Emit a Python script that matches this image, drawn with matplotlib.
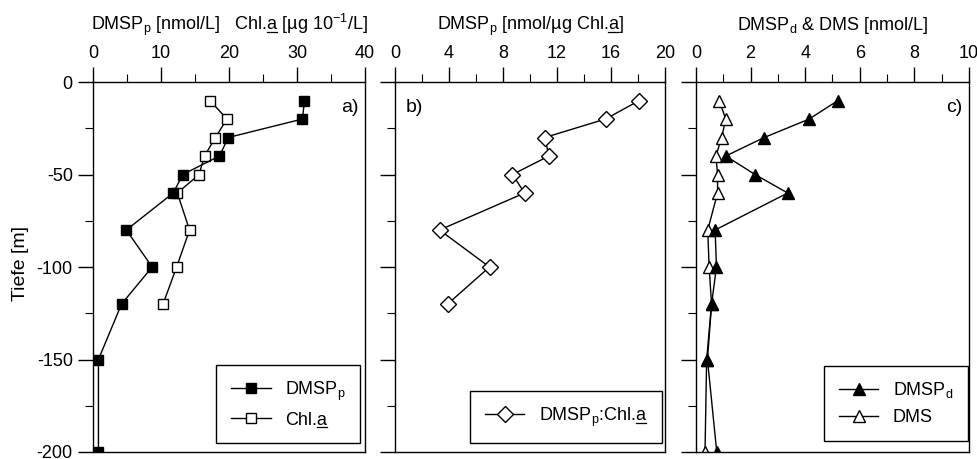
import matplotlib
matplotlib.use("Agg")
import matplotlib.pyplot as plt
from matplotlib.lines import Line2D
from matplotlib.transforms import IdentityTransform
from matplotlib.ticker import MultipleLocator

plt.rcParams["font.family"] = ["Liberation Sans", "DejaVu Sans"]
plt.rcParams["mathtext.fontset"] = "custom"
plt.rcParams["mathtext.rm"] = "Liberation Sans"
plt.rcParams["mathtext.it"] = "Liberation Sans:italic"
plt.rcParams["axes.unicode_minus"] = False

# depth profiles (m)
depth = [-10, -20, -30, -40, -50, -60, -80, -100, -120, -150, -200]
dmsp_p = [31.1, 30.8, 19.9, 18.6, 13.2, 11.8, 4.9, 8.7, 4.2, 0.8, 0.8]

depth_chl = [-10, -20, -30, -40, -50, -60, -80, -100, -120]
chl_a = [17.2, 19.7, 18.0, 16.4, 15.6, 12.4, 14.2, 12.3, 10.3]
ratio = [18.1, 15.6, 11.1, 11.4, 8.7, 9.6, 3.3, 7.0, 3.9]

dmsp_d = [5.2, 4.15, 2.5, 1.09, 2.16, 3.36, 0.7, 0.75, 0.57, 0.42, 0.76]
dms = [0.85, 1.09, 0.94, 0.73, 0.79, 0.79, 0.43, 0.48, 0.57, 0.39, 0.33]

fig = plt.figure(figsize=(9.78, 4.59), dpi=100)
W, H = 978, 459
boxes = [(93, 365), (395, 665), (696, 969)]
top, bot = 82, 452
axes = [fig.add_axes([x0 / W, 1 - bot / H, (x1 - x0) / W, (bot - top) / H])
        for x0, x1 in boxes]

for i, ax in enumerate(axes):
    ax.set_ylim(-200, 0)
    ax.xaxis.tick_top()
    ax.xaxis.set_label_position("top")
    ax.yaxis.set_major_locator(MultipleLocator(50))
    ax.yaxis.set_minor_locator(MultipleLocator(25))
    ax.tick_params(which="major", length=11, width=1, labelsize=13, direction="out")
    ax.tick_params(which="minor", length=6, width=0.8, direction="out")
    ax.tick_params(axis="y", right=False, labelleft=(i == 0))
    for s in ax.spines.values():
        s.set_linewidth(1)
    ax.xaxis.labelpad = 11

line_kw = dict(color="black", lw=1)
leg_kw = dict(loc="lower right", fontsize=13, fancybox=False, edgecolor="black",
              framealpha=1, borderpad=0.8, handlelength=2.2, borderaxespad=0)

# a) DMSPp and Chl.a
ax = axes[0]
ax.plot(chl_a, depth_chl, marker="s", ms=7, mfc="white", mec="black",
        label="Chl.a", **line_kw)
ax.plot(dmsp_p, depth, marker="s", ms=7, mfc="black", mec="black",
        label=r"DMSP$_\mathrm{p}$", **line_kw)
ax.set_xlim(0, 40)
ax.xaxis.set_major_locator(MultipleLocator(10))
ax.xaxis.set_minor_locator(MultipleLocator(5))
ax.set_xlabel(r"DMSP$_\mathrm{p}$ [nmol/L]   Chl.a [µg 10$^{-1}$/L]", fontsize=13)
ax.set_ylabel("Tiefe [m]", fontsize=14)
ax.yaxis.set_label_coords(-0.235, 0.51)
h, l = ax.get_legend_handles_labels()
leg_a = ax.legend(h[::-1], l[::-1], bbox_to_anchor=(0.982, 0.024), **leg_kw)
ax.text(0.975, 0.955, "a)", transform=ax.transAxes, ha="right", va="top", fontsize=14)

# b) DMSPp:Chl.a ratio
ax = axes[1]
ax.plot(ratio, depth_chl, marker="D", ms=8, mfc="white", mec="black",
        label=r"DMSP$_\mathrm{p}$:Chl.a", **line_kw)
ax.set_xlim(0, 20)
ax.xaxis.set_major_locator(MultipleLocator(4))
ax.xaxis.set_minor_locator(MultipleLocator(2))
ax.set_xlabel(r"DMSP$_\mathrm{p}$ [nmol/µg Chl.a]", fontsize=13)
leg_b = ax.legend(bbox_to_anchor=(0.989, 0.024), **leg_kw)
ax.text(0.04, 0.955, "b)", transform=ax.transAxes, ha="left", va="top", fontsize=14)

# c) DMSPd and DMS
ax = axes[2]
ax.plot(dms, depth, marker="^", ms=8, mfc="white", mec="black", label="DMS", **line_kw)
ax.plot(dmsp_d, depth, marker="^", ms=8, mfc="black", mec="black",
        label=r"DMSP$_\mathrm{d}$", **line_kw)
ax.set_xlim(0, 10)
ax.xaxis.set_major_locator(MultipleLocator(2))
ax.xaxis.set_minor_locator(MultipleLocator(1))
ax.set_xlabel(r"DMSP$_\mathrm{d}$ & DMS [nmol/L]", fontsize=13)
h, l = ax.get_legend_handles_labels()
ax.legend(h[::-1], l[::-1], bbox_to_anchor=(0.995, 0.03), **leg_kw)
ax.text(0.975, 0.955, "c)", transform=ax.transAxes, ha="right", va="top", fontsize=14)


def underline_a(t, r):
    """Underline the 'a' of 'Chl.a' inside a drawn Text."""
    s = t.get_text()
    k = s.rindex("Chl.a") + 4
    fp = t.get_fontproperties()
    bb = t.get_window_extent(r)
    w_pre = r.get_text_width_height_descent(s[:k], fp, "$" in s[:k])[0]
    w_a = r.get_text_width_height_descent("a", fp, False)[0]
    d = max(r.get_text_width_height_descent(s, fp, "$" in s)[2],
            r.get_text_width_height_descent("lp", fp, False)[2])
    y = bb.y0 + d - 2
    x0 = bb.x0 + w_pre + 0.5
    fig.add_artist(Line2D([x0, x0 + w_a], [y, y], transform=IdentityTransform(),
                          color="black", lw=0.9))


fig.canvas.draw()
rend = fig.canvas.get_renderer()
targets = [axes[0].xaxis.label, axes[1].xaxis.label]
targets += [t for lg in (leg_a, leg_b) for t in lg.get_texts() if "Chl.a" in t.get_text()]
for t in targets:
    underline_a(t, rend)

fig.savefig("out.png", dpi=100)
